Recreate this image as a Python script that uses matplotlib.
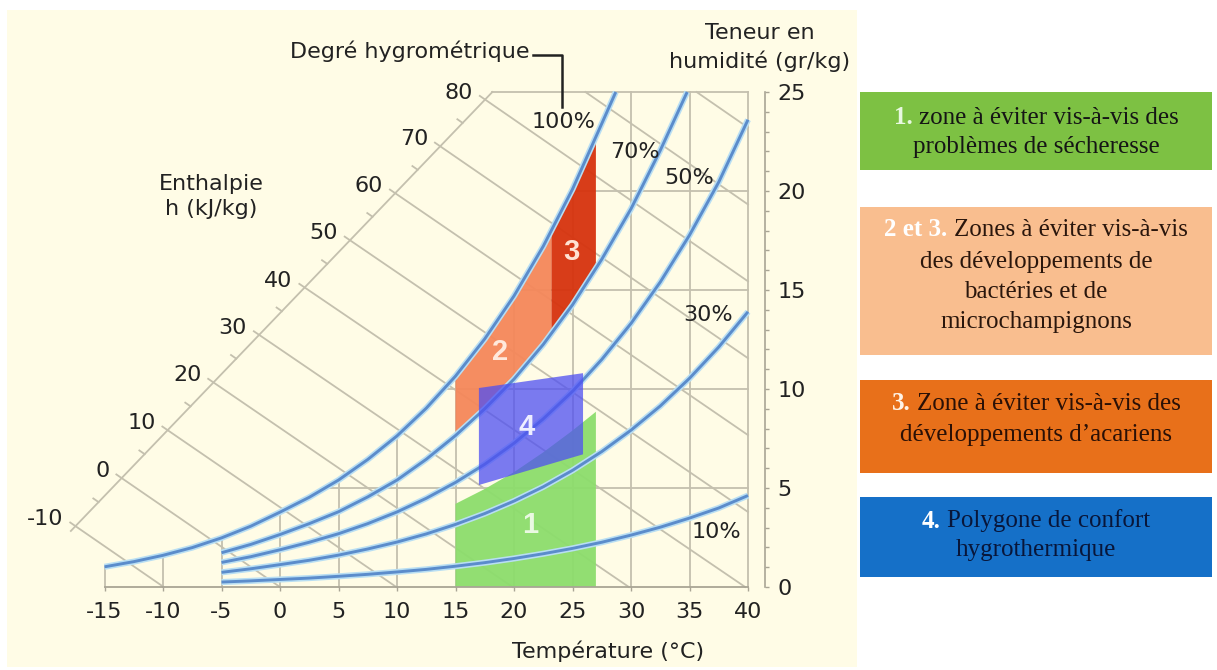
import numpy as np
import matplotlib
matplotlib.use("Agg")
import matplotlib.pyplot as plt
from matplotlib.patches import Polygon, Rectangle
from matplotlib.offsetbox import TextArea, HPacker, AnnotationBbox

plt.rcParams['axes.unicode_minus'] = False

# ---------------- data ----------------
x_ticks = [-15, -10, -5, 0, 5, 10, 15, 20, 25, 30, 35, 40]
y_ticks = [0, 5, 10, 15, 20, 25]

T_sat = [-15, -12.5, -10, -7.5, -5, -2.5, 0, 2.5, 5, 7.5, 10, 12.5, 15, 17.5, 20, 22.5, 25, 27.5, 28.7]
W_sat = [1.02, 1.28, 1.60, 1.99, 2.48, 3.07, 3.78, 4.53, 5.40, 6.44, 7.63, 9.03, 10.65, 12.53, 14.70, 17.21, 20.09, 23.40, 25.0]

T_rh70 = [-5, -2.5, 0, 2.5, 5, 7.5, 10, 12.5, 15, 17.5, 20, 22.5, 25, 27.5, 30, 32.5, 34.8]
W_rh70 = [1.73, 2.15, 2.65, 3.20, 3.80, 4.55, 5.40, 6.45, 7.65, 9.00, 10.50, 12.25, 14.25, 16.55, 19.10, 22.05, 25.0]

T_rh = [-5, -2.5, 0, 2.5, 5, 7.5, 10, 12.5, 15, 17.5, 20, 22.5, 25, 27.5, 30, 32.5, 35, 37.5, 40]
W_rh50 = [1.24, 1.53, 1.88, 2.26, 2.69, 3.20, 3.79, 4.48, 5.28, 6.20, 7.26, 8.49, 9.88, 11.49, 13.31, 15.40, 17.77, 20.45, 23.6]
W_rh30 = [0.74, 0.92, 1.13, 1.35, 1.61, 1.92, 2.27, 2.68, 3.16, 3.71, 4.34, 5.06, 5.89, 6.84, 7.92, 9.14, 10.54, 12.12, 13.9]
W_rh10 = [0.25, 0.31, 0.38, 0.45, 0.54, 0.64, 0.76, 0.89, 1.05, 1.23, 1.44, 1.68, 1.95, 2.26, 2.62, 3.02, 3.48, 3.99, 4.62]

h_lines = [-10, 0, 10, 20, 30, 40, 50, 60, 70, 80, 90, 100]
h_labels = [-10, 0, 10, 20, 30, 40, 50, 60, 70, 80]
h_minor = [-5, 5, 15, 25, 35, 45, 55, 65, 75]

# zones
zone1_T = [15, 17.5, 20, 22.5, 25, 27]
zone1_W = [4.20, 4.95, 5.80, 6.80, 7.90, 8.85]
zone2_T = (15, 23.2)
zone3_T = (23.2, 27)
zone4_T = [17, 25.9, 25.9, 17]
zone4_W = [5.15, 6.70, 10.80, 10.05]

legend_items = [
    ("1.", "zone à éviter vis-à-vis des", ["problèmes de sécheresse"], '#7DC143', '#151515', '#E8F8E0'),
    ("2 et 3.", "Zones à éviter vis-à-vis", ["des développements de", "bactéries et de", "microchampignons"], '#F9BE8F', '#2A160C', '#FFFFFF'),
    ("3.", "Zone à éviter vis-à-vis des", ["développements d\u2019acariens"], '#E8701A', '#2A1006', '#FFF3E6'),
    ("4.", "Polygone de confort", ["hygrothermique"], '#1570C8', '#08163A', '#FFFFFF'),
]

# ---------------- styles ----------------
cream = '#FFFCE6'
gridc = '#C4C0AE'
axc = '#A9A595'
curve_c = '#5B8CCB'
halo_c = '#B8DEF3'
sans = 'DejaVu Sans'
serif = 'Liberation Serif'
fs = 16

fig = plt.figure(figsize=(12.17, 6.70), dpi=100)
fig.patch.set_facecolor('white')

# pixel layout of the chart panel
X0P, XS = 280.0, 11.7
Y0P, YS = 587.0, 19.8
def PT(xp):
    return (xp - X0P) / XS
def PW(yp):
    return (Y0P - yp) / YS

ax = fig.add_axes([7 / 1217, 3 / 670, 850 / 1217, 657 / 670])
ax.set_facecolor(cream)
ax.set_xlim(PT(7), PT(857))
ax.set_ylim(PW(667), PW(10))

for s in ['left', 'top']:
    ax.spines[s].set_visible(False)
ax.spines['bottom'].set_position(('data', 0))
ax.spines['bottom'].set_bounds(-15, 40)
ax.spines['bottom'].set_color(axc)
ax.spines['bottom'].set_linewidth(1.3)
ax.spines['right'].set_position(('data', PT(765)))
ax.spines['right'].set_bounds(0, 25)
ax.spines['right'].set_color(axc)
ax.spines['right'].set_linewidth(1.2)

ax.set_xticks(x_ticks)
ax.set_xticklabels([str(t) for t in x_ticks])
ax.xaxis.set_ticks_position('bottom')
ax.tick_params(axis='x', direction='out', length=3, width=1, color=axc,
               labelsize=fs, pad=8, labelcolor='#222222')
ax.yaxis.set_ticks_position('right')
ax.set_yticks(y_ticks)
ax.set_yticklabels([str(v) for v in y_ticks])
ax.set_yticks(np.arange(0, 26, 1), minor=True)
ax.tick_params(axis='y', which='both', direction='out', length=3, width=1,
               color=axc, labelsize=fs, pad=6, labelcolor='#222222')
for lab in ax.get_xticklabels() + ax.get_yticklabels():
    lab.set_fontfamily(sans)

# ---------------- grid ----------------
T_top = 18.15  # top of enthalpy scale on the 25 g/kg line
for t in x_ticks:
    top = 25.0 if t > T_sat[-1] else min(np.interp(t, T_sat, W_sat), 25.0)
    ax.plot([t, t], [0, top], color=gridc, lw=1.3, zorder=1)
for w in [5, 10, 15, 20]:
    ts = np.interp(w, W_sat, T_sat)
    ax.plot([ts, 40], [w, w], color=gridc, lw=1.3, zorder=1)
ax.plot([T_top, 40], [25, 25], color=gridc, lw=1.3, zorder=1)

# enthalpy scale line
A = np.array([-17.6, 3.0])
C = np.array([T_top, 25.0])
def h_of(T, W):
    return 1.006 * T + W * (2.501 + 0.00186 * T)
def W_of(h, T):
    return (h - 1.006 * T) / (2.501 + 0.00186 * T)
ss = np.linspace(-0.05, 1.0, 2001)
P = A[None, :] + ss[:, None] * (C - A)[None, :]
hs = h_of(P[:, 0], P[:, 1])
def scale_pt(h):
    s = np.interp(h, hs, ss)
    return A + s * (C - A)
p0 = scale_pt(-11)
ax.plot([p0[0], C[0]], [p0[1], C[1]], color=gridc, lw=1.3, zorder=1)

ext = 0.45
for h in h_lines:
    if h <= 80:
        st = scale_pt(h)
        t_start = st[0] - ext
    else:
        t_start = (h - 2.501 * 25) / (1.006 + 0.00186 * 25)
    t0 = h / 1.006
    if t0 <= 40:
        te, we = t0, 0.0
    else:
        te, we = 40.0, W_of(h, 40.0)
    ws = W_of(h, t_start)
    ax.plot([t_start, te], [ws, we], color=gridc, lw=1.3, zorder=1)
for h in h_minor:
    st = scale_pt(h)
    ax.plot([st[0] - ext, st[0]], [W_of(h, st[0] - ext), W_of(h, st[0])],
            color=gridc, lw=1.3, zorder=1)
for h in h_labels:
    st = scale_pt(h)
    ax.annotate(str(h), xy=(st[0], st[1]), xytext=(-12, 7), textcoords='offset pixels',
                ha='right', va='center', fontsize=fs, family=sans, color='#222222')

# ---------------- zones ----------------
z1 = [(zone1_T[0], 0)] + list(zip(zone1_T, zone1_W)) + [(zone1_T[-1], 0)]
ax.add_patch(Polygon(z1, closed=True, facecolor='#8CDD6C', edgecolor='none', alpha=0.95, zorder=2))

def band(t0, t1):
    tt = [t0] + [t for t in T_sat if t0 < t < t1] + [t1]
    up = np.interp(tt, T_sat, W_sat)
    tl = [t0] + [t for t in T_rh70 if t0 < t < t1] + [t1]
    lo = np.interp(tl, T_rh70, W_rh70)
    return list(zip(tt, up)) + list(zip(tl[::-1], lo[::-1]))

ax.add_patch(Polygon(band(*zone2_T), closed=True, facecolor='#F5875A', edgecolor='none', alpha=0.95, zorder=2))
ax.add_patch(Polygon(band(*zone3_T), closed=True, facecolor='#D6330E', edgecolor='none', alpha=0.95, zorder=2))

# ---------------- curves ----------------
curves = [(T_sat, W_sat), (T_rh70, W_rh70), (T_rh, W_rh50), (T_rh, W_rh30), (T_rh, W_rh10)]
for tt, ww in curves:
    ax.plot(tt, ww, color=halo_c, lw=4.4, solid_capstyle='butt', zorder=3)
    ax.plot(tt, ww, color=curve_c, lw=2.1, solid_capstyle='butt', zorder=3.1)

ax.add_patch(Polygon(list(zip(zone4_T, zone4_W)), closed=True, facecolor='#4E4FF3',
                     edgecolor='none', alpha=0.75, zorder=4))

# zone numbers
for txt, xp, yp, col in [("1", 530, 525, '#EAF9E2'), ("2", 500, 352, '#FFE9DC'),
                         ("3", 571, 252, '#FFE2D2'), ("4", 527, 427, '#EEEEFF')]:
    ax.text(PT(xp), PW(yp), txt, ha='center', va='center', fontsize=21,
            fontweight='bold', family='Liberation Sans', color=col, zorder=6)

# ---------------- texts ----------------
tc = '#222222'
for txt, xp, yp in [("100%", 563, 122), ("70%", 635, 152), ("50%", 689, 178),
                    ("30%", 708, 315), ("10%", 716, 532)]:
    ax.text(PT(xp), PW(yp), txt, ha='center', va='center', fontsize=fs, family=sans, color=tc, zorder=6)

ax.text(PT(530), PW(51), "Degré hygrométrique", ha='right', va='center', fontsize=fs, family=sans, color=tc)
ax.plot([PT(533), PT(562), PT(562)], [PW(55), PW(55), PW(107)], color='#222222', lw=1.8, zorder=5)
ax.text(PT(760), PW(33), "Teneur en", ha='center', va='center', fontsize=fs, family=sans, color=tc)
ax.text(PT(760), PW(61), "humidité (gr/kg)", ha='center', va='center', fontsize=fs, family=sans, color=tc)
ax.text(PT(211), PW(184), "Enthalpie", ha='center', va='center', fontsize=fs, family=sans, color=tc)
ax.text(PT(211), PW(209), "h (kJ/kg)", ha='center', va='center', fontsize=fs, family=sans, color=tc)
ax.text(PT(608), PW(651), "Température (°C)", ha='center', va='center', fontsize=fs, family=sans, color=tc)

# ---------------- legend boxes ----------------
lax = fig.add_axes([0, 0, 1, 1])
lax.set_xlim(0, 1217)
lax.set_ylim(670, 0)
lax.axis('off')
lax.patch.set_alpha(0)

boxes = [(92, 170, [118, 147]), (207, 355, [229, 262, 292, 322]),
         (380, 473, [404, 435]), (497, 577, [521, 550])]
xc = 1036
lfs = 18
for (pre, first, rest, bg, fg, pc), (y0, y1, ys) in zip(legend_items, boxes):
    lax.add_patch(Rectangle((860, y0), 352, y1 - y0, facecolor=bg, edgecolor='none'))
    ta1 = TextArea(pre, textprops=dict(color=pc, fontsize=lfs, family=serif, fontweight='bold'))
    ta2 = TextArea(first, textprops=dict(color=fg, fontsize=lfs, family=serif))
    hp = HPacker(children=[ta1, ta2], align='baseline', pad=0, sep=4.5)
    ab = AnnotationBbox(hp, (xc, ys[0]), xycoords='data', box_alignment=(0.5, 0.5),
                        frameon=False, pad=0)
    lax.add_artist(ab)
    for line, yy in zip(rest, ys[1:]):
        lax.text(xc, yy, line, ha='center', va='center', fontsize=lfs, family=serif, color=fg)

fig.savefig('out.png', dpi=100, facecolor='white')
